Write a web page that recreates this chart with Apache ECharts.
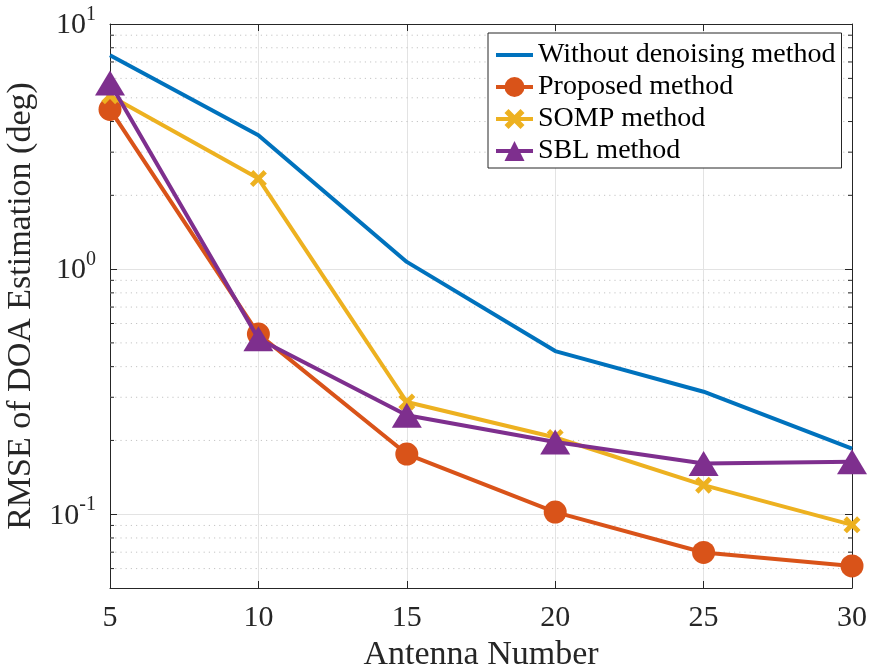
<!DOCTYPE html>
<html>
<head>
<meta charset="utf-8">
<script src="https://cdn.jsdelivr.net/npm/echarts@6/dist/echarts.min.js"></script>
<style>
html,body{margin:0;padding:0;background:#fff;}
#main{width:871px;height:672px;}
</style>
</head>
<body>
<div id="main"></div>
<script>
// ---- data ----
const antennaNumbers = [5, 10, 15, 20, 25, 30];
const withoutDenoising = [7.45, 3.52, 1.07, 0.463, 0.316, 0.185];
const proposed = [4.48, 0.543, 0.176, 0.102, 0.0698, 0.0615];
const somp = [5.1, 2.34, 0.287, 0.2056, 0.1314, 0.0905];
const sbl = [5.75, 0.52, 0.2535, 0.197, 0.161, 0.1636];
const seriesNames = ['Without denoising method', 'Proposed method', 'SOMP method', 'SBL method'];
const xMin = 5, xMax = 30, xStep = 5;
const yMin = 0.05, yMax = 10;
const minorTickValues = [0.06, 0.07, 0.08, 0.09, 0.2, 0.3, 0.4, 0.5, 0.6, 0.7, 0.8, 0.9, 2, 3, 4, 5, 6, 7, 8, 9];
const xLabel = 'Antenna Number';
const yLabel = 'RMSE of DOA Estimation (deg)';

const FONT = 'Liberation Serif';
const TXT = '#262626';
const colors = ['#0072BD', '#D95319', '#EDB120', '#7E2F8E'];
const crossPath = 'path://M0,2L2,0L5,3L8,0L10,2L7,5L10,8L8,10L5,7L2,10L0,8L3,5Z';
const LW = 4;

const pairs = arr => antennaNumbers.map((x, i) => [x, arr[i]]);

const chart = echarts.init(document.getElementById('main'), null, {renderer: 'canvas'});

const option = {
  backgroundColor: '#fff',
  animation: false,
  grid: {left: 110, right: 19, top: 24, bottom: 84, containLabel: false, outerBoundsMode: 'none'},
  legend: {
    data: [
      {name: seriesNames[0], icon: 'path://M0,0L37,0L37,4L0,4Z'},
      {name: seriesNames[1]},
      {name: seriesNames[2]},
      {name: seriesNames[3]}
    ],
    orient: 'vertical',
    left: 488,
    top: 33,
    backgroundColor: '#fff',
    borderColor: '#262626',
    borderWidth: 1,
    borderRadius: 0,
    padding: [8, 6, 3, 6],
    itemWidth: 37,
    itemHeight: 25,
    itemGap: 4,
    itemTextGap: 4,
    lineStyle: {width: LW},
    textStyle: {fontFamily: FONT, fontSize: 28, color: '#000'}
  },
  xAxis: [{
    type: 'value', min: xMin, max: xMax, interval: xStep,
    position: 'bottom',
    axisLine: {show: true, lineStyle: {color: TXT, width: 1}},
    axisTick: {show: true, inside: true, length: 7, lineStyle: {color: TXT}},
    axisLabel: {fontFamily: FONT, fontSize: 30, color: TXT, margin: 15},
    splitLine: {show: true, lineStyle: {color: '#e3e3e3', width: 1}},
    name: xLabel, nameLocation: 'middle', nameGap: 40,
    nameTextStyle: {fontFamily: FONT, fontSize: 34, color: TXT}
  }, {
    type: 'value', min: xMin, max: xMax, interval: xStep,
    position: 'top',
    axisLine: {show: true, lineStyle: {color: TXT, width: 1}},
    axisTick: {show: true, inside: true, length: 7, lineStyle: {color: TXT}},
    axisLabel: {show: false},
    splitLine: {show: false}
  }],
  yAxis: [{
    type: 'log', logBase: 10, min: yMin, max: yMax,
    position: 'left',
    axisLine: {show: true, lineStyle: {color: TXT, width: 1}},
    axisTick: {show: true, inside: true, length: 7, lineStyle: {color: TXT}},
    axisLabel: {
      margin: 14,
      showMinLabel: false,
      padding: [3, 0, 0, 0],
      formatter: function (v) {
        const l = Math.log10(v);
        const e = Math.round(l);
        if (Math.abs(l - e) > 1e-6) return '';
        return '{b|10}{s|' + e + '}';
      },
      rich: {
        b: {fontFamily: FONT, fontSize: 30, color: TXT, lineHeight: 30, verticalAlign: 'bottom'},
        s: {fontFamily: FONT, fontSize: 20, color: TXT, lineHeight: 20, verticalAlign: 'bottom', padding: [0, 0, 16, 0]}
      }
    },
    splitLine: {show: true, lineStyle: {color: '#e3e3e3', width: 1}},
    name: yLabel, nameLocation: 'middle', nameGap: 63,
    nameTextStyle: {fontFamily: FONT, fontSize: 34, color: TXT}
  }, {
    type: 'log', logBase: 10, min: yMin, max: yMax,
    position: 'right',
    axisLine: {show: true, lineStyle: {color: TXT, width: 1}},
    axisTick: {show: true, inside: true, length: 7, lineStyle: {color: TXT}},
    axisLabel: {show: false},
    splitLine: {show: false}
  }],
  series: [
    {
      name: 'minor',
      type: 'custom',
      xAxisIndex: 0, yAxisIndex: 0,
      z: 1,
      silent: true,
      data: minorTickValues.map(v => [xMin, v]),
      renderItem: function (params, api) {
        const v = api.value(1);
        const p1 = api.coord([xMin, v]);
        const p2 = api.coord([xMax, v]);
        return {
          type: 'group',
          children: [
            {type: 'line', shape: {x1: p1[0], y1: p1[1], x2: p2[0], y2: p2[1]},
             style: {stroke: '#c4c4c4', lineWidth: 1, lineDash: [1.2, 4]}},
            {type: 'line', shape: {x1: p1[0], y1: p1[1], x2: p1[0] + 4, y2: p1[1]},
             style: {stroke: TXT, lineWidth: 1}},
            {type: 'line', shape: {x1: p2[0] - 4, y1: p2[1], x2: p2[0], y2: p2[1]},
             style: {stroke: TXT, lineWidth: 1}}
          ]
        };
      }
    },
    {
      name: seriesNames[0], type: 'line', data: pairs(withoutDenoising),
      symbol: 'none', z: 3,
      lineStyle: {color: colors[0], width: LW},
      itemStyle: {color: colors[0]}
    },
    {
      name: seriesNames[1], type: 'line', data: pairs(proposed),
      symbol: 'circle', symbolSize: 23, z: 4,
      lineStyle: {color: colors[1], width: LW},
      itemStyle: {color: colors[1], opacity: 1}
    },
    {
      name: seriesNames[2], type: 'line', data: pairs(somp),
      symbol: crossPath, symbolSize: 17, symbolKeepAspect: true, z: 5,
      lineStyle: {color: colors[2], width: LW},
      itemStyle: {color: colors[2], opacity: 1}
    },
    {
      name: seriesNames[3], type: 'line', data: pairs(sbl),
      symbol: 'triangle', symbolSize: [30, 25], z: 6,
      lineStyle: {color: colors[3], width: LW},
      itemStyle: {color: colors[3], opacity: 1}
    }
  ]
};
chart.setOption(option);
</script>
</body>
</html>
